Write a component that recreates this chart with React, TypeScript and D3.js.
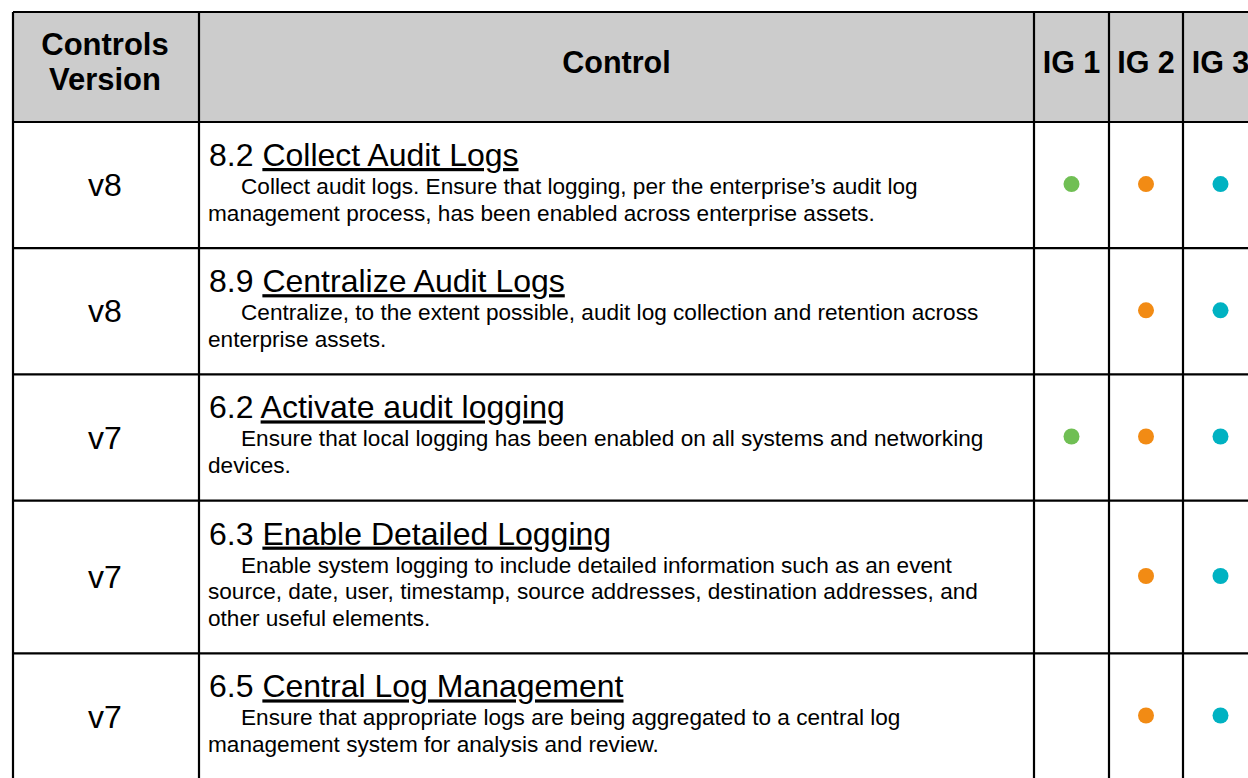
import React from "react";
import * as d3 from "d3";

const headers = ["Controls\nVersion", "Control", "IG 1", "IG 2", "IG 3"];
const versions = ["v8", "v8", "v7", "v7", "v7"];
const numbers = ["8.2", "8.9", "6.2", "6.3", "6.5"];
const titles = [
  "Collect Audit Logs",
  "Centralize Audit Logs",
  "Activate audit logging",
  "Enable Detailed Logging",
  "Central Log Management",
];
const descriptions = [
  [
    "Collect audit logs. Ensure that logging, per the enterprise’s audit log",
    "management process, has been enabled across enterprise assets.",
  ],
  [
    "Centralize, to the extent possible, audit log collection and retention across",
    "enterprise assets.",
  ],
  [
    "Ensure that local logging has been enabled on all systems and networking",
    "devices.",
  ],
  [
    "Enable system logging to include detailed information such as an event",
    "source, date, user, timestamp, source addresses, destination addresses, and",
    "other useful elements.",
  ],
  [
    "Ensure that appropriate logs are being aggregated to a central log",
    "management system for analysis and review.",
  ],
];
const ig1 = [true, false, true, false, false];
const ig2 = [true, true, true, true, true];
const ig3 = [true, true, true, true, true];

const igColors = ["#70bf54", "#f28b14", "#00b2c2"];

const FONT = "'Liberation Sans', Arial, Helvetica, sans-serif";

export default function App() {
  const W = 1248;
  const H = 778;
  const colEdges = [13, 199, 1034, 1109, 1183, 1258];
  const headerTop = 12;
  const headerBottom = 122;
  const lineH = 26.6;

  // row heights computed from line counts
  const heights = descriptions.map((d) => 73 + lineH * d.length);
  const tops: number[] = [];
  let acc = headerBottom;
  heights.forEach((h) => {
    tops.push(acc);
    acc += h;
  });
  const tableBottom = acc;

  const y = d3
    .scaleOrdinal<number, number>()
    .domain(d3.range(versions.length))
    .range(tops);

  const igFlags = [ig1, ig2, ig3];
  const colCenter = (i: number) => (colEdges[i] + colEdges[i + 1]) / 2;

  return (
    <svg
      width={W}
      height={H}
      style={{ position: "absolute", left: 0, top: 0, display: "block" }}
      fontFamily={FONT}
    >
      <rect x={0} y={0} width={W} height={H} fill="#ffffff" />
      {/* header background */}
      <rect
        x={colEdges[0]}
        y={headerTop}
        width={colEdges[5] - colEdges[0]}
        height={headerBottom - headerTop}
        fill="#cccccc"
      />
      {/* header texts */}
      <text x={colCenter(0) - 1} y={55} textAnchor="middle" fontSize={31} fontWeight="bold" fill="#000">
        {headers[0].split("\n")[0]}
      </text>
      <text x={colCenter(0) - 1} y={90} textAnchor="middle" fontSize={31} fontWeight="bold" fill="#000">
        {headers[0].split("\n")[1]}
      </text>
      {headers.slice(1).map((h, i) => (
        <text
          key={h}
          x={colCenter(i + 1)}
          y={73}
          textAnchor="middle"
          fontSize={30.5}
          fontWeight="bold"
          fill="#000"
        >
          {h}
        </text>
      ))}

      {/* rows */}
      {versions.map((v, r) => {
        const top = y(r);
        const h = heights[r];
        const mid = top + h / 2;
        return (
          <g key={r}>
            <text x={colCenter(0) - 1} y={mid + 11} textAnchor="middle" fontSize={32} fill="#000">
              {v}
            </text>
            <text x={209} y={top + 44} fontSize={32} fill="#000">
              <tspan>{numbers[r] + " "}</tspan>
              <tspan textDecoration="underline" style={{ textDecoration: "underline" }}>
                {titles[r]}
              </tspan>
            </text>
            {descriptions[r].map((line, k) => (
              <text
                key={k}
                x={k === 0 ? 241 : 208}
                y={top + 72 + k * lineH}
                fontSize={22.6}
                fill="#000"
              >
                {line}
              </text>
            ))}
            {igFlags.map((flags, c) =>
              flags[r] ? (
                <circle key={c} cx={colCenter(c + 2)} cy={mid - 1} r={8} fill={igColors[c]} />
              ) : null
            )}
          </g>
        );
      })}

      {/* grid lines */}
      <g stroke="#000" strokeWidth={2.2}>
        <line x1={colEdges[0]} x2={colEdges[5]} y1={headerTop} y2={headerTop} />
        <line x1={colEdges[0]} x2={colEdges[5]} y1={headerBottom} y2={headerBottom} />
        {tops.slice(1).map((t, i) => (
          <line key={i} x1={colEdges[0]} x2={colEdges[5]} y1={t} y2={t} />
        ))}
        <line x1={colEdges[0]} x2={colEdges[5]} y1={tableBottom} y2={tableBottom} />
        {colEdges.map((x, i) => (
          <line key={"c" + i} x1={x} x2={x} y1={headerTop} y2={tableBottom} />
        ))}
      </g>
    </svg>
  );
}
